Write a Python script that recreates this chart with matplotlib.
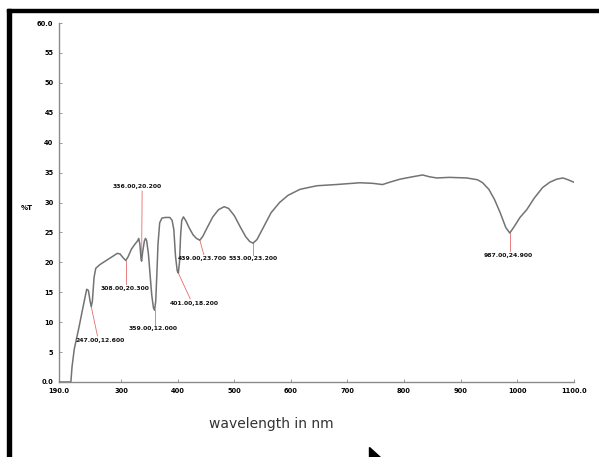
import matplotlib
matplotlib.use("Agg")
import matplotlib.pyplot as plt
from matplotlib.patches import Rectangle, Polygon

# ---- data ----
wavelength = [190, 200, 211, 213, 217, 225, 232, 239, 242, 245, 247, 249, 252, 255,
              262, 275, 285, 293, 298, 303, 308, 312, 318, 324, 329, 331, 333, 335,
              336, 338, 341, 343, 345, 348, 351, 354, 357, 359, 361, 363, 365, 368,
              372, 378, 386, 390, 393, 396, 399, 401, 403, 405, 407, 410, 414, 420,
              427, 433, 439, 444, 452, 462, 472, 482, 490, 500, 510, 520, 527, 533,
              540, 550, 565, 580, 595, 616, 646, 680, 722, 745, 762, 775, 793, 815,
              833, 845, 858, 880, 911, 930, 939, 950, 960, 970, 980, 987, 995, 1005,
              1017, 1030, 1045, 1058, 1070, 1081, 1090, 1100]
signal = [0.0, 0.0, 0.0, 2.5, 5.5, 9.0, 12.3, 15.5, 15.3, 13.5, 12.6, 13.5, 17.5, 19.0,
          19.6, 20.4, 21.0, 21.5, 21.4, 20.8, 20.3, 20.9, 22.2, 23.0, 23.6, 24.0, 23.0, 20.6,
          20.2, 21.8, 23.6, 24.0, 23.6, 21.5, 18.0, 14.5, 12.4, 12.0, 13.5, 18.0, 23.0, 26.6,
          27.4, 27.5, 27.5, 27.0, 25.5, 21.0, 18.6, 18.2, 20.0, 24.5, 27.0, 27.6, 27.0, 25.8,
          24.6, 24.0, 23.7, 24.3, 25.8, 27.6, 28.8, 29.3, 29.0, 27.8, 26.0, 24.3, 23.5, 23.2,
          23.8, 25.6, 28.3, 30.0, 31.2, 32.2, 32.8, 33.0, 33.3, 33.2, 33.0, 33.4, 33.9, 34.3,
          34.6, 34.3, 34.1, 34.2, 34.1, 33.8, 33.3, 32.2, 30.5, 28.3, 25.8, 24.9, 26.0, 27.5,
          28.8, 30.7, 32.5, 33.4, 33.9, 34.1, 33.8, 33.4]

peak_wl = [247.0, 308.0, 336.0, 359.0, 401.0, 439.0, 533.0, 987.0]
peak_val = [12.6, 20.3, 20.2, 12.0, 18.2, 23.7, 23.2, 24.9]

xtick_values = [190, 300, 400, 500, 600, 700, 800, 900, 1000, 1100]
xtick_labels = ["190.0", "300", "400", "500", "600", "700", "800", "900", "1000", "1100.0"]
ytick_values = [0, 5, 10, 15, 20, 25, 30, 35, 40, 45, 50, 55, 60]
ytick_labels = ["0.0", "5", "10", "15", "20", "25", "30", "35", "40", "45", "50", "55", "60.0"]

# label placement (layout): text centre and line end for each peak label
label_text_pos = [(263, 7.0), (306, 15.6), (329, 32.6), (356, 8.9), (430, 13.2),
                  (444, 20.6), (533, 20.6), (984, 21.2)]
label_line_end = [(258, 7.7), (308, 16.3), (337, 31.9), (359, 9.6), (422, 13.9),
                  (446, 21.3), (533, 21.3), (987, 21.9)]

W, H = 599, 457
fig = plt.figure(figsize=(W / 100, H / 100), dpi=100)
fig.patch.set_facecolor("white")

ax = fig.add_axes([59 / W, 1 - 382 / H, (573.7 - 59) / W, (382 - 23) / H])
ax.plot(wavelength, signal, color="#737373", lw=1.1, zorder=3)

red = "#e04848"
for (px, py), (tx, ty), (lx, ly) in zip(zip(peak_wl, peak_val), label_text_pos, label_line_end):
    ax.plot([px, lx], [py, ly], color=red, lw=0.6, alpha=0.8, zorder=2)
    ax.text(tx, ty, f"{px:.2f},{py:.3f}", fontsize=4.4, fontweight="bold",
            ha="center", va="center", color="#111111", zorder=4)

ax.set_xlim(190, 1100)
ax.set_ylim(0, 60)
ax.set_xticks(xtick_values)
ax.set_xticklabels(xtick_labels, fontsize=4.8, fontweight="bold")
ax.set_yticks(ytick_values)
ax.set_yticklabels(ytick_labels, fontsize=4.8, fontweight="bold")
ax.tick_params(axis="both", length=2, width=0.6, color="#888888", pad=4, direction="in")
for s in ["top", "right"]:
    ax.spines[s].set_visible(False)
for s in ["left", "bottom"]:
    ax.spines[s].set_color("#8a8a8a")
    ax.spines[s].set_linewidth(1.0)
ax.set_facecolor("white")

fig.text(27 / W, 1 - 208 / H, "%T", fontsize=5, fontweight="bold", ha="center", va="center")
fig.text(271 / W, 1 - 424 / H, "wavelength in nm", fontsize=10, color="#333333",
         ha="center", va="center")

# frame bars
fig.patches.append(Rectangle((7 / W, 1 - 12 / H), (W - 7) / W, 3.5 / H,
                             transform=fig.transFigure, color="black", zorder=10))
fig.patches.append(Rectangle((7 / W, 0), 4 / W, 1 - 9 / H,
                             transform=fig.transFigure, color="black", zorder=10))
# cursor glyph
fig.patches.append(Polygon([(369 / W, 1 - 447 / H), (369 / W, 0), (380 / W, 0)],
                           closed=True, transform=fig.transFigure, color="black", zorder=10))

fig.savefig("out.png", dpi=100)
